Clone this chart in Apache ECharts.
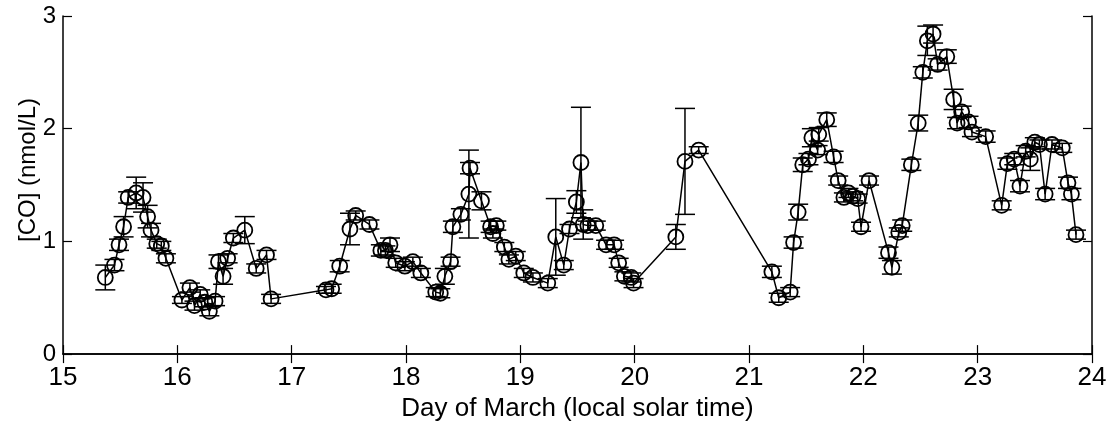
<!DOCTYPE html>
<html>
<head>
<meta charset="utf-8">
<script src="https://cdn.jsdelivr.net/npm/echarts@6/dist/echarts.min.js"></script>
<style>
html,body{margin:0;padding:0;background:#fff;}
#chart{width:1110px;height:427px;}
</style>
</head>
<body>
<div id="chart"></div>
<script>
// Day of March (local solar time)
var dayX = [15.37,15.45,15.49,15.53,15.57,15.64,15.70,15.74,15.77,15.82,15.86,15.90,
  16.04,16.11,16.15,16.20,16.24,16.28,16.33,16.36,16.40,16.44,16.49,16.59,16.69,16.78,16.82,
  17.30,17.35,17.42,17.51,17.56,17.68,17.78,17.82,17.86,17.91,17.99,18.06,18.13,18.26,18.30,
  18.34,18.39,18.41,18.48,18.55,18.56,18.66,18.74,18.76,18.79,18.86,18.90,18.96,19.03,19.11,
  19.24,19.31,19.38,19.43,19.49,19.53,19.55,19.59,19.66,19.75,19.82,19.86,19.91,19.97,19.99,
  20.36,20.44,20.56,
  21.20,21.26,21.36,21.39,21.43,21.47,21.52,21.55,21.60,21.61,21.68,21.74,21.78,21.83,21.87,
  21.91,21.95,21.98,22.05,22.22,22.25,22.31,22.34,22.42,22.48,22.52,22.56,22.61,22.65,22.73,
  22.79,22.82,22.86,22.92,22.95,23.07,23.21,23.26,23.32,23.37,23.42,23.46,23.50,23.54,23.59,
  23.65,23.74,23.79,23.82,23.86];
// [CO] (nmol/L)
var coVal = [0.68,0.79,0.97,1.13,1.39,1.43,1.39,1.22,1.10,0.98,0.96,0.85,
  0.48,0.59,0.43,0.53,0.46,0.38,0.47,0.82,0.69,0.85,1.03,1.10,0.76,0.88,0.49,
  0.57,0.58,0.78,1.11,1.23,1.15,0.92,0.92,0.97,0.81,0.78,0.82,0.72,0.55,0.54,
  0.69,0.82,1.13,1.24,1.42,1.65,1.36,1.13,1.07,1.14,0.95,0.84,0.87,0.72,0.68,
  0.63,1.04,0.79,1.11,1.35,1.70,1.15,1.14,1.14,0.97,0.97,0.81,0.69,0.68,0.63,
  1.04,1.71,1.81,
  0.73,0.50,0.55,0.99,1.26,1.68,1.73,1.92,1.81,1.95,2.08,1.75,1.54,1.39,1.43,
  1.40,1.38,1.13,1.54,0.90,0.77,1.08,1.14,1.68,2.05,2.50,2.78,2.84,2.57,2.64,
  2.26,2.05,2.15,2.06,1.97,1.93,1.32,1.69,1.73,1.49,1.80,1.73,1.88,1.86,1.42,
  1.86,1.83,1.52,1.42,1.06];
// error (±, nmol/L)
var coErr = [0.11,0.05,0.05,0.09,0.05,0.14,0.13,0.10,0.06,0.04,0.04,0.04,
  0.03,0.04,0.04,0.04,0.04,0.04,0.04,0.06,0.07,0.04,0.04,0.12,0.04,0.04,0.04,
  0.03,0.04,0.05,0.14,0.04,0.04,0.05,0.04,0.06,0.04,0.04,0.04,0.04,0.04,0.04,
  0.07,0.04,0.05,0.05,0.39,0.05,0.08,0.05,0.04,0.04,0.04,0.04,0.04,0.04,0.04,
  0.04,0.34,0.04,0.04,0.10,0.49,0.13,0.04,0.04,0.04,0.04,0.04,0.04,0.04,0.04,
  0.11,0.47,0.03,
  0.05,0.04,0.04,0.05,0.07,0.06,0.05,0.08,0.04,0.06,0.06,0.05,0.04,0.04,0.04,
  0.04,0.04,0.04,0.04,0.05,0.06,0.04,0.05,0.05,0.07,0.05,0.13,0.08,0.05,0.06,
  0.09,0.05,0.05,0.05,0.04,0.05,0.04,0.05,0.05,0.05,0.05,0.10,0.04,0.04,0.05,
  0.04,0.04,0.05,0.05,0.04];
var xTicks = [15,16,17,18,19,20,21,22,23,24];
var yTicks = [0,1,2,3];

var lineData = dayX.map(function(x,i){return [x, coVal[i]];});
var errData = dayX.map(function(x,i){return [x, coVal[i], coErr[i]];});

var chart = echarts.init(document.getElementById('chart'), null, {renderer:'canvas'});
var FONT = '"Liberation Sans", Arial, Helvetica, sans-serif';
var axisLine = {show:true, lineStyle:{color:'#000', width:1.5}};
var option = {
  animation:false,
  backgroundColor:'#fff',
  grid:{left:63, right:18, top:16, bottom:68, containLabel:false},
  xAxis:[{
    type:'value', min:15, max:24, interval:1,
    axisLine:axisLine, axisTick:{show:true, inside:true, length:9, lineStyle:{color:'#000', width:1.2}},
    splitLine:{show:false},
    axisLabel:{color:'#000', fontSize:26, fontFamily:FONT, margin:11,
      formatter:function(v){return xTicks.indexOf(v)>=0 ? String(v) : '';}},
    name:'Day of March (local solar time)', nameLocation:'middle', nameGap:41,
    nameTextStyle:{color:'#000', fontSize:26, fontFamily:FONT}
  },{
    type:'value', position:'top', min:15, max:24, interval:1,
    axisLine:axisLine, axisTick:{show:true, inside:true, length:9, lineStyle:{color:'#000', width:1.2}},
    axisLabel:{show:false}, splitLine:{show:false}
  }],
  yAxis:[{
    type:'value', min:0, max:3, interval:1,
    axisLine:axisLine, axisTick:{show:true, inside:true, length:9, lineStyle:{color:'#000', width:1.2}},
    splitLine:{show:false},
    axisLabel:{color:'#000', fontSize:24, fontFamily:FONT, margin:7,
      formatter:function(v){return yTicks.indexOf(v)>=0 ? String(v) : '';}}
  },{
    type:'value', position:'right', min:0, max:3, interval:1,
    axisLine:axisLine, axisTick:{show:true, inside:true, length:9, lineStyle:{color:'#000', width:1.2}},
    axisLabel:{show:false}, splitLine:{show:false}
  }],
  graphic:[{
    type:'text', rotation:Math.PI/2,
    x:28, y:170,
    style:{text:'[CO] (nmol/L)', fill:'#000', font:'24px "Liberation Sans", Arial, sans-serif',
      textAlign:'center', textVerticalAlign:'middle'}
  }],
  series:[{
    type:'custom',
    data:errData,
    renderItem:function(params, api){
      var x = api.value(0), y = api.value(1), e = api.value(2);
      var top = api.coord([x, y+e]);
      var bot = api.coord([x, y-e]);
      var hw = 10;
      var st = {stroke:'#000', lineWidth:1.5, fill:null};
      return {type:'group', children:[
        {type:'line', shape:{x1:top[0], y1:top[1], x2:bot[0], y2:bot[1]}, style:st},
        {type:'line', shape:{x1:top[0]-hw, y1:top[1], x2:top[0]+hw, y2:top[1]}, style:st},
        {type:'line', shape:{x1:bot[0]-hw, y1:bot[1], x2:bot[0]+hw, y2:bot[1]}, style:st}
      ]};
    },
    z:3
  },{
    type:'line',
    data:lineData,
    symbol:'circle', symbolSize:15,
    itemStyle:{color:'rgba(0,0,0,0)', borderColor:'#000', borderWidth:1.8},
    lineStyle:{color:'#000', width:1.5},
    z:2
  }]
};
chart.setOption(option);
</script>
</body>
</html>
